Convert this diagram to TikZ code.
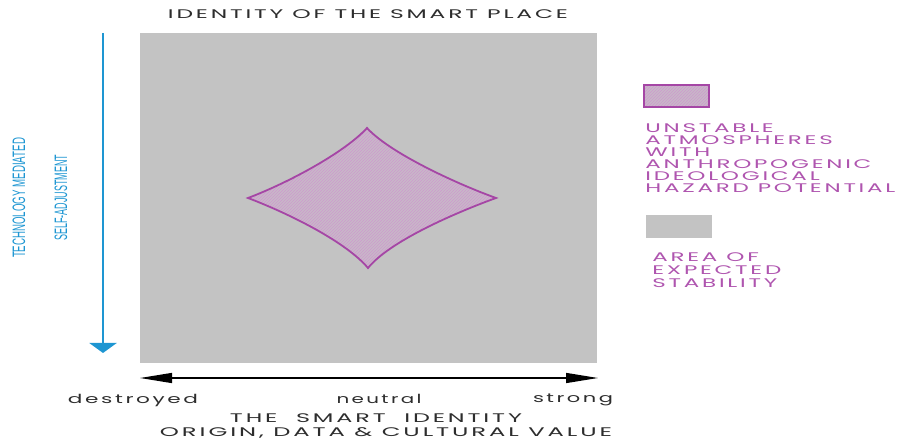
\documentclass[tikz,border=0pt]{standalone}
\usepackage{fontspec}
\usepackage{graphicx}
\setmainfont{Poppins}[LetterSpace=12]
\newfontfamily\narrowfont{Liberation Sans}
\usetikzlibrary{arrows.meta,positioning,patterns}
\definecolor{areagray}{RGB}{195,195,195}
\definecolor{hazardline}{RGB}{165,70,165}
\definecolor{hazardtext}{RGB}{175,85,175}
\definecolor{hazardfill}{RGB}{200,184,200}
\definecolor{axisblue}{RGB}{30,150,210}
\definecolor{labelgray}{RGB}{45,45,45}
% stretch a line of text to a given width, height kept
\newcommand{\widen}[2]{\resizebox{#1}{\height}{#2}}
% one horizontal scale for both legend texts
\newsavebox{\keybox}
\sbox{\keybox}{\fontsize{12.5}{12}\selectfont HAZARD POTENTIAL}
\pgfmathsetmacro{\keyscale}{250/\the\wd\keybox}
\tikzset{
    stablearea/.style={fill=areagray,draw=none},
    hazardarea/.style={draw=hazardline,line width=1.8pt,preaction={fill=hazardfill},pattern=north east lines,pattern color=hazardline!55},
    titletext/.style={font=\fontsize{12.5}{14}\selectfont,text=labelgray,inner sep=0pt,anchor=base},
    scaletext/.style={font=\fontsize{12.5}{14}\selectfont,text=labelgray,inner sep=0pt,anchor=base},
    vertext/.style={font=\narrowfont\fontsize{18}{20}\selectfont,text=axisblue,rotate=90,inner sep=0pt},
    legendtext/.style={font=\fontsize{12.5}{12}\selectfont,text=hazardtext,align=left,inner sep=0pt,anchor=north west,xscale=\keyscale,transform shape},
    blueaxis/.style={-{Triangle[width=27pt,length=10pt]},draw=axisblue,line width=2.6pt},
    blackaxis/.style={{Triangle[width=10pt,length=32pt]}-{Triangle[width=10pt,length=32pt]},line width=1.3pt}
}

\begin{document}
\begin{tikzpicture}[x=1pt,y=-1pt]
            \useasboundingbox (0,0) rectangle (902,443);
            % main field
            \fill[stablearea] (140,33) rectangle (597,363);
            \draw[hazardarea] (248,198) .. controls (290,182) and (345,152) .. (367,128)
                .. controls (389,152) and (452,182) .. (496,198)
                .. controls (452,214) and (389,242) .. (368,268)
                .. controls (346,242) and (290,214) .. (248,198) -- cycle;
            % labels
            \node[titletext] (title) at (368,19) {\widen{400pt}{IDENTITY OF THE SMART PLACE}};
            \node[vertext] (ytop) at (19,198) {\widen{120pt}{TECHNOLOGY MEDIATED}};
            \node[vertext] (ybot) at (61,198) {\widen{86pt}{SELF-ADJUSTMENT}};
            \coordinate (ystart) at (103,33);
            \coordinate (yend) at (103,353);
            \draw[blueaxis] (ystart) -- (yend);
            \coordinate (xstart) at (140,378);
            \coordinate (xend) at (598,378);
            \draw[blackaxis] (xstart) -- (xend);
            \node[scaletext] (destroyed) at (133,403) {\widen{130pt}{destroyed}};
            \node[scaletext] (neutral) at (379,403) {\widen{85pt}{neutral}};
            \node[scaletext] (strong) at (573,402) {\widen{80pt}{strong}};
            \node[titletext] (xname) at (376,422) {\widen{292pt}{THE \ SMART \ IDENTITY}};
            \node[titletext] (xvalue) at (386,436) {\widen{452pt}{ORIGIN, DATA \& CULTURAL VALUE}};
            % legend
            \draw[hazardarea,line width=1.5pt] (644,85) rectangle (709,107);
            \node[legendtext] (hazardkey) at (645,123) {UNSTABLE\\ATMOSPHERES\\WITH\\ANTHROPOGENIC\\IDEOLOGICAL\\HAZARD POTENTIAL};
            \fill[stablearea] (646,215) rectangle (712,238);
            \node[legendtext,font=\fontsize{12.5}{13}\selectfont] (stablekey) at (652,252) {AREA OF\\EXPECTED\\STABILITY};
        \end{tikzpicture}
\end{document}
